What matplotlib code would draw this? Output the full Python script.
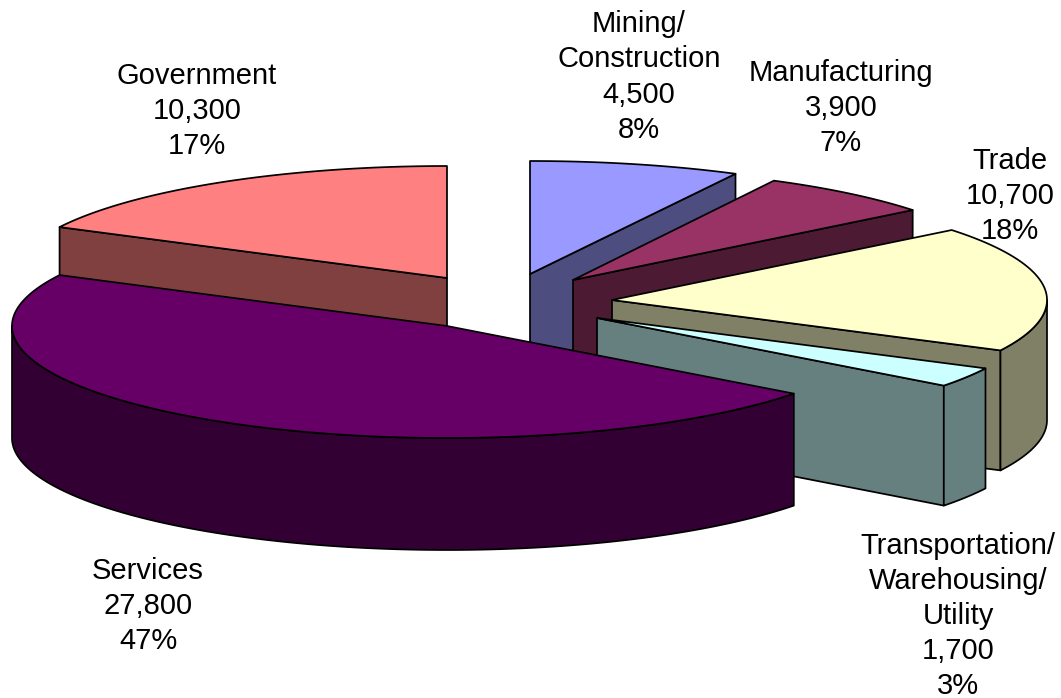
import numpy as np
import matplotlib
matplotlib.use("Agg")
import matplotlib.pyplot as plt
from matplotlib.patches import Polygon

plt.rcParams['font.family'] = ['Liberation Sans', 'DejaVu Sans']

categories = ["Mining/\nConstruction", "Manufacturing", "Trade",
              "Transportation/\nWarehousing/\nUtility", "Services", "Government"]
values = [4500, 3900, 10700, 1700, 27800, 10300]

top_colors = ["#9999FF", "#993366", "#FFFFCC", "#CCFFFF", "#660066", "#FF8080"]
side_colors = ["#4D4D80", "#4D1A33", "#808066", "#668080", "#330033", "#804040"]
apex_x = [530, 573, 612, 597, 447, 447]
apex_y = [274, 280, 300, 318, 326, 278]
radius_x = [445, 435, 435, 435, 435, 435]
radius_y = [113, 112, 112, 112, 112, 112]
depths = [115, 115, 120, 120, 112, 115]
draw_order = [5, 0, 1, 2, 3, 4]
label_x = [639, 841, 1010, 958, 148, 197]
label_y = [77, 108, 196, 616, 606, 111]

W, H = 1061, 698

fig = plt.figure(figsize=(W / 100, H / 100), dpi=100)
ax = fig.add_axes([0, 0, 1, 1])
ax.set_xlim(0, W)
ax.set_ylim(H, 0)
ax.axis("off")


def pt(i, th):
    return np.column_stack([apex_x[i] + radius_x[i] * np.sin(th),
                            apex_y[i] - radius_y[i] * np.cos(th)])


total = sum(values)
fractions = np.array(values) / total
edges = np.concatenate([[0], np.cumsum(fractions)]) * 2 * np.pi
kw = dict(edgecolor="black", linewidth=1.25, joinstyle="round")

for z, i in enumerate(draw_order):
    a0, a1 = edges[i], edges[i + 1]
    d = depths[i]
    apex = np.array([apex_x[i], apex_y[i]])
    z = 2 + z
    # radial cut faces that turn toward the viewer
    if a0 > np.pi:
        p = pt(i, np.array([a0]))[0]
        ax.add_patch(Polygon([apex, p, p + [0, d], apex + [0, d]], facecolor=side_colors[i], zorder=z, **kw))
    if a1 < np.pi:
        p = pt(i, np.array([a1]))[0]
        ax.add_patch(Polygon([apex, p, p + [0, d], apex + [0, d]], facecolor=side_colors[i], zorder=z, **kw))
    # outer rim, front half of the ellipse only
    lo, hi = max(a0, np.pi / 2), min(a1, 3 * np.pi / 2)
    if hi > lo:
        arc = pt(i, np.linspace(lo, hi, 120))
        rim = np.vstack([arc, arc[::-1] + [0, d]])
        ax.add_patch(Polygon(rim, facecolor=side_colors[i], zorder=z, **kw))
    # top face
    arc = pt(i, np.linspace(a0, a1, 200))
    ax.add_patch(Polygon(np.vstack([apex, arc]), facecolor=top_colors[i], zorder=z + 0.5, **kw))

for c, v, f, x, y in zip(categories, values, fractions, label_x, label_y):
    ax.text(x, y, f"{c}\n{v:,}\n{f * 100:.0f}%", ha="center", va="center",
            fontsize=21, linespacing=1.32, color="black", zorder=20)

fig.savefig("out.png", dpi=100)
